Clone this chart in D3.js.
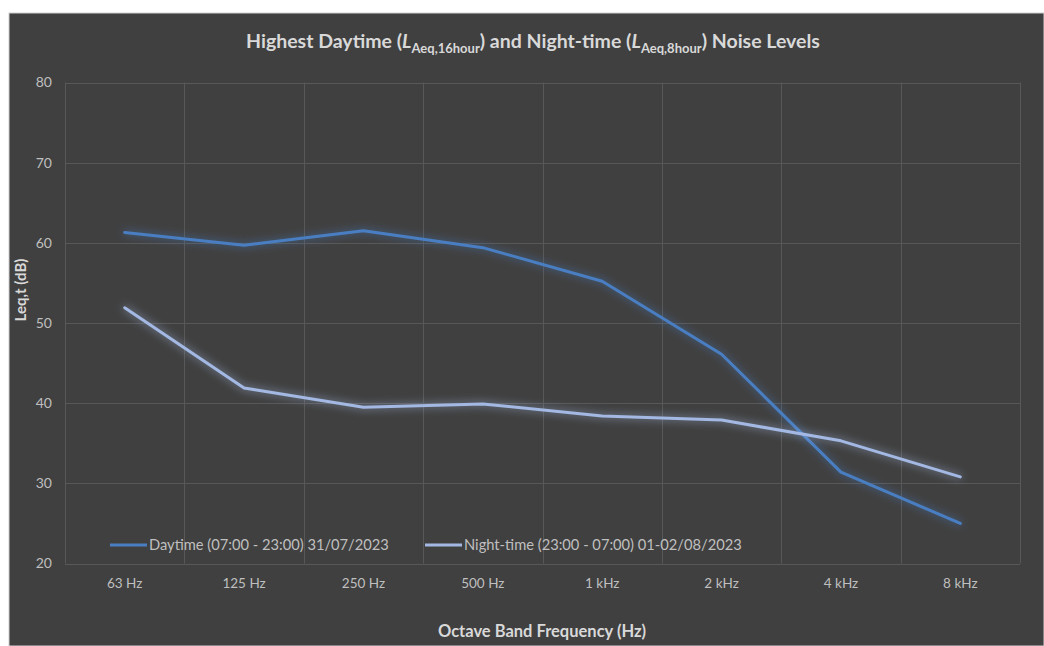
<!DOCTYPE html>
<html>
<head>
<meta charset="utf-8">
<script src="https://cdn.jsdelivr.net/npm/d3@7"></script>
<style>
  html, body { margin: 0; padding: 0; background: #ffffff; }
  svg { display: block; }
  text { font-family: Lato, "Open Sans", sans-serif; }
</style>
</head>
<body>
<svg id="chart" width="1044" height="646"></svg>
<script>
const categories = ["63 Hz", "125 Hz", "250 Hz", "500 Hz", "1 kHz", "2 kHz", "4 kHz", "8 kHz"];
const daytime = [61.3, 59.7, 61.5, 59.4, 55.2, 46.1, 31.4, 25.0];
const nighttime = [51.9, 41.9, 39.5, 39.9, 38.4, 37.9, 35.3, 30.8];
const yTicks = [20, 30, 40, 50, 60, 70, 80];
const seriesNames = ["Daytime (07:00 - 23:00) 31/07/2023", "Night-time (23:00 - 07:00) 01-02/08/2023"];
const seriesColors = ["#4a7ec2", "#a3b8e3"];

const svg = d3.select("#chart");
const W = 1044, H = 646;

// chart background
svg.append("rect").attr("x", 9).attr("y", 13).attr("width", W - 9).attr("height", H - 13)
  .attr("fill", "#404040").attr("stroke", "#d0d0d0").attr("stroke-width", 1);

const plot = { left: 65, right: 1020, top: 82.5, bottom: 563.5 };

const x = d3.scaleBand().domain(categories).range([plot.left, plot.right]).padding(0);
const y = d3.scaleLinear().domain([20, 80]).range([plot.bottom, plot.top]);

// filters for glow
const defs = svg.append("defs");
seriesColors.forEach((c, i) => {
  const f = defs.append("filter").attr("id", "glow" + i)
    .attr("x", "-10%").attr("y", "-20%").attr("width", "120%").attr("height", "140%");
  f.append("feGaussianBlur").attr("in", "SourceGraphic").attr("stdDeviation", 4.5).attr("result", "blur");
  f.append("feComponentTransfer").attr("in", "blur").attr("result", "glowA")
    .append("feFuncA").attr("type", "linear").attr("slope", 0.8);
  const m = f.append("feMerge");
  m.append("feMergeNode").attr("in", "glowA");
  m.append("feMergeNode").attr("in", "SourceGraphic");
});

// horizontal gridlines
svg.append("g").selectAll("line").data(yTicks).join("line")
  .attr("x1", plot.left).attr("x2", plot.right)
  .attr("y1", d => Math.round(y(d)) + 0.5).attr("y2", d => Math.round(y(d)) + 0.5)
  .attr("stroke", "#585858").attr("stroke-width", 1);

// vertical gridlines at category boundaries
const bounds = categories.map(c => x(c)).concat([plot.right]);
svg.append("g").selectAll("line").data(bounds).join("line")
  .attr("x1", d => Math.round(d) + 0.5).attr("x2", d => Math.round(d) + 0.5)
  .attr("y1", plot.top).attr("y2", plot.bottom)
  .attr("stroke", "#585858").attr("stroke-width", 1);

// y tick labels
svg.append("g").selectAll("text").data(yTicks).join("text")
  .attr("x", 52).attr("y", d => y(d)).attr("dy", "0.35em")
  .attr("text-anchor", "end").attr("fill", "#bfbfbf").attr("font-size", 14)
  .text(d => d);

// x tick labels
svg.append("g").selectAll("text").data(categories).join("text")
  .attr("x", d => x(d) + x.bandwidth() / 2).attr("y", 583).attr("dy", "0.35em")
  .attr("text-anchor", "middle").attr("fill", "#bfbfbf").attr("font-size", 13.5)
  .text(d => d);

// lines
const line = d3.line().x((d, i) => x(categories[i]) + x.bandwidth() / 2).y(d => y(d));
[daytime, nighttime].forEach((s, i) => {
  svg.append("path").datum(s)
    .attr("d", line).attr("fill", "none")
    .attr("stroke", seriesColors[i]).attr("stroke-width", 3)
    .attr("stroke-linejoin", "round").attr("stroke-linecap", "round")
    .attr("filter", "url(#glow" + i + ")");
});

// legend
const legendX = [110, 425];
seriesNames.forEach((n, i) => {
  const g = svg.append("g").attr("transform", `translate(${legendX[i]},545)`);
  g.append("line").attr("x1", 0).attr("x2", 37).attr("y1", 0).attr("y2", 0)
    .attr("stroke", seriesColors[i]).attr("stroke-width", 3);
  g.append("text").attr("x", 39).attr("y", 0).attr("dy", "0.35em")
    .attr("fill", "#bfbfbf").attr("font-size", 14.7).text(n);
});

// title
const title = svg.append("text").attr("x", 533).attr("y", 48)
  .attr("text-anchor", "middle").attr("fill", "#d9d9d9")
  .attr("font-size", 19.5).attr("font-weight", "bold");
title.append("tspan").text("Highest Daytime (");
title.append("tspan").attr("font-style", "italic").text("L");
title.append("tspan").attr("font-size", 13).attr("dy", 5).text("Aeq,16hour");
title.append("tspan").attr("dy", -5).text(") and Night-time (");
title.append("tspan").attr("font-style", "italic").text("L");
title.append("tspan").attr("font-size", 13).attr("dy", 5).text("Aeq,8hour");
title.append("tspan").attr("dy", -5).text(") Noise Levels");

// axis titles
svg.append("text").attr("transform", "translate(26,290) rotate(-90)")
  .attr("text-anchor", "middle").attr("fill", "#d9d9d9")
  .attr("font-size", 15).attr("font-weight", "bold").text("Leq,t (dB)");
svg.append("text").attr("x", 542).attr("y", 637)
  .attr("text-anchor", "middle").attr("fill", "#d9d9d9")
  .attr("font-size", 16.5).attr("font-weight", "bold").text("Octave Band Frequency (Hz)");
</script>
</body>
</html>
